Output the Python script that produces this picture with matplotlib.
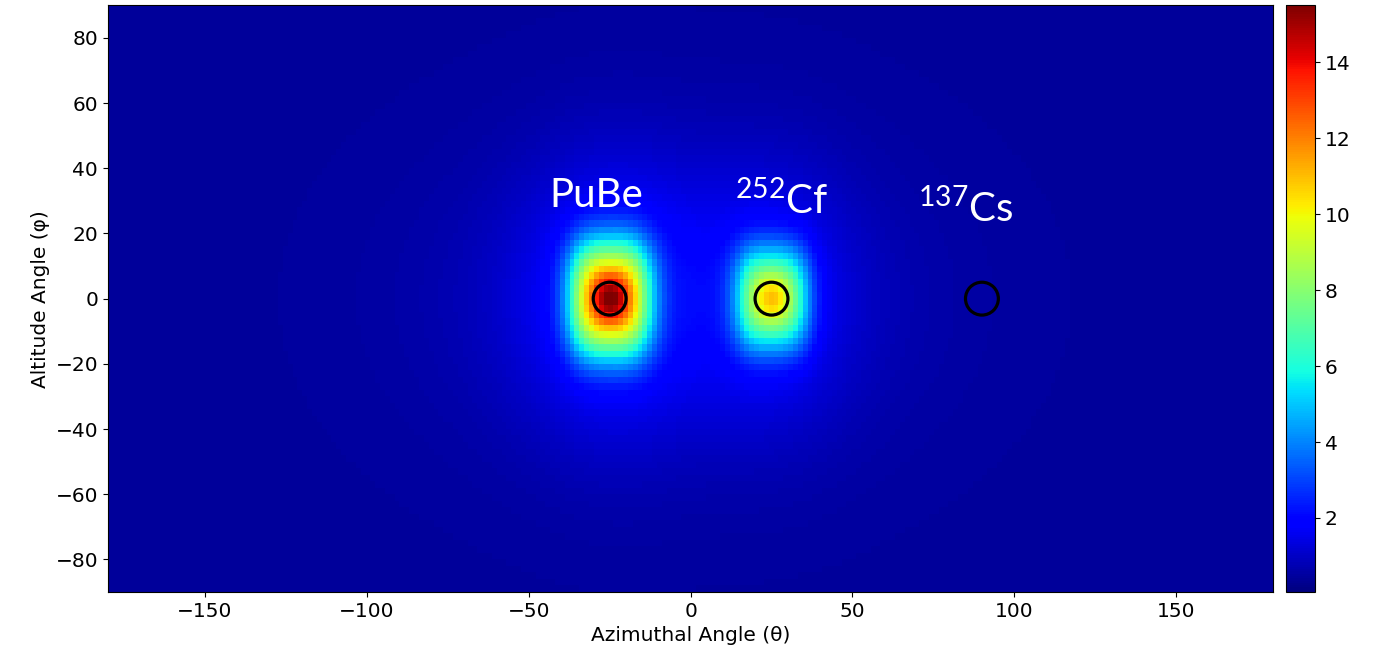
import numpy as np
import matplotlib
matplotlib.use("Agg")
import matplotlib.pyplot as plt

# source labels and reconstructed hot spots
source_names = ["PuBe", r"$^{252}$Cf", r"$^{137}$Cs"]
source_theta = [-25.0, 25.0, 90.0]
source_phi = [0.0, 0.0, 0.0]
# broad part of each spot
spot_amp = [9.3, 6.3, 0.0]
spot_sig_theta = [10.0, 9.0, 10.0]
spot_sig_phi = [13.5, 12.0, 10.0]
# sharp core on top
core_amp = [4.0, 2.5, 0.0]
core_sig_theta = [4.0, 4.0, 4.0]
core_sig_phi = [5.0, 5.0, 5.0]
# faint halo
halo_amp = [1.3, 1.0, 0.0]
halo_sig_theta = [18.0, 16.0, 10.0]
halo_sig_phi = [28.0, 26.0, 10.0]
label_theta = [-29.0, 28.0, 85.0]
label_phi = [28.0, 25.8, 23.3]

# smooth background level
bg_floor = 0.45
bg_peak = 0.9
bg_sig_theta = 45.0
bg_sig_phi = 32.0

theta_ticks = [-150, -100, -50, 0, 50, 100, 150]
phi_ticks = [-80, -60, -40, -20, 0, 20, 40, 60, 80]
cbar_ticks = [2, 4, 6, 8, 10, 12, 14]

theta = np.arange(-180, 180, 1.5) + 0.75
phi = np.arange(-90, 90, 2.0) + 1.0
T, P = np.meshgrid(theta, phi)

img = bg_floor + bg_peak * np.exp(-0.5 * (((T + 5) / bg_sig_theta) ** 2 + (P / bg_sig_phi) ** 2))
for i in range(len(source_theta)):
    dt = T - source_theta[i]
    dp = P - source_phi[i]
    img += spot_amp[i] * np.exp(-0.5 * (np.abs(dt / spot_sig_theta[i]) ** 3
                                        + np.abs(dp / spot_sig_phi[i]) ** 2.5))
    img += core_amp[i] * np.exp(-0.5 * ((dt / core_sig_theta[i]) ** 2 + (dp / core_sig_phi[i]) ** 2))
    img += halo_amp[i] * np.exp(-0.5 * ((dt / halo_sig_theta[i]) ** 2 + (dp / halo_sig_phi[i]) ** 2))

fig = plt.figure(figsize=(13.75, 6.6), dpi=100)
ax = fig.add_axes([0.0785, 0.103, 0.8475, 0.889])
cax = fig.add_axes([0.9353, 0.103, 0.0211, 0.889])

im = ax.imshow(img, cmap="jet", origin="lower", aspect="auto",
               extent=[-180, 180, -90, 90], interpolation="nearest",
               vmin=0.05, vmax=15.5)
ax.scatter(source_theta, source_phi, s=560, facecolors="none",
           edgecolors="black", linewidths=2.3, zorder=3)

plt.rcParams["mathtext.fontset"] = "custom"
plt.rcParams["mathtext.rm"] = "Lato"
for name, x, y in zip(source_names, label_theta, label_phi):
    ax.text(x, y, name, color="white", fontsize=29, family="Lato",
            ha="center", va="baseline")

ax.set_xlim(-180, 180)
ax.set_ylim(-90, 90)
ax.set_xticks(theta_ticks)
ax.set_yticks(phi_ticks)
ax.tick_params(labelsize=14.5)
ax.set_xlabel("Azimuthal Angle (θ)", fontsize=14.5)
ax.set_ylabel("Altitude Angle (φ)", fontsize=14.5)

cb = fig.colorbar(im, cax=cax, ticks=cbar_ticks)
cb.ax.tick_params(labelsize=14.5)

fig.savefig("out.png", dpi=100)
